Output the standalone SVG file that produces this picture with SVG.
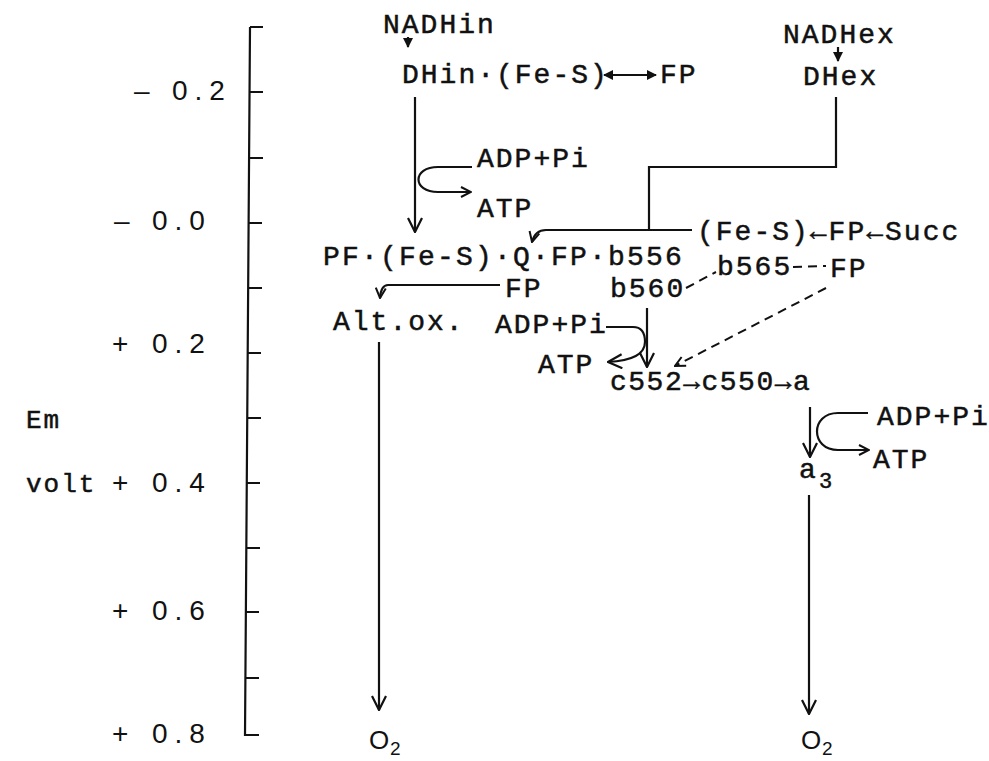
<svg xmlns="http://www.w3.org/2000/svg" width="989" height="761" viewBox="0 0 989 761">
<style>
.t{font-family:"Liberation Mono","DejaVu Sans Mono",monospace;font-size:28px;letter-spacing:2px;fill:#111;stroke:#111;stroke-width:0.5px}
.s{font-family:"Liberation Sans",Arial,sans-serif;font-size:28px;fill:#111}
.n{letter-spacing:7px}
.ln{fill:none;stroke:#111;stroke-width:2.2}
.d{fill:none;stroke:#111;stroke-width:2;stroke-dasharray:9 6}
</style>
<defs>
<marker id="v" viewBox="0 0 16 16" refX="15" refY="8" markerWidth="16" markerHeight="16" markerUnits="userSpaceOnUse" orient="auto"><path d="M1,1 L15,8 L1,15" fill="none" stroke="#111" stroke-width="2.2"/></marker>
<marker id="vs" viewBox="0 0 12 12" refX="11" refY="6" markerWidth="12" markerHeight="12" markerUnits="userSpaceOnUse" orient="auto"><path d="M1,1 L11,6 L1,11" fill="none" stroke="#111" stroke-width="2"/></marker>
<marker id="f" viewBox="0 0 10 10" refX="9" refY="5" markerWidth="10" markerHeight="10" markerUnits="userSpaceOnUse" orient="auto"><path d="M0,0 L10,5 L0,10 Z" fill="#111"/></marker>
<marker id="fs" viewBox="0 0 10 10" refX="1" refY="5" markerWidth="10" markerHeight="10" markerUnits="userSpaceOnUse" orient="auto"><path d="M10,0 L0,5 L10,10 Z" fill="#111"/></marker>
</defs>
<rect width="989" height="761" fill="#fff"/>

<g id="axis">
<path class="ln" d="M250,27 L245,735 H259" stroke-width="2.6"/>
<path class="ln" d="M250,27 H263 M250,92 H263 M250,158 H263 M249,223 H262 M249,288 H262 M248,353 H261 M248,418 H261 M247,483 H260 M247,548 H260 M246,612 H259 M246,678 H259"/>
<text class="s" x="134" y="100">–</text><text class="s n" x="172" y="100">0.2</text>
<text class="s" x="114" y="230">–</text><text class="s n" x="152" y="230">0.0</text>
<text class="s" x="112" y="353">+</text><text class="s n" x="152" y="353">0.2</text>
<text class="s" x="112" y="492">+</text><text class="s n" x="152" y="492">0.4</text>
<text class="s" x="112" y="620">+</text><text class="s n" x="152" y="620">0.6</text>
<text class="s" x="112" y="743">+</text><text class="s n" x="152" y="743">0.8</text>
<text class="t" x="26" y="428" style="font-size:26px">Em</text>
<text class="t" x="26" y="492" style="font-size:26px">volt</text>
</g>

<g id="nadhin"><text class="t" x="383" y="33">NADHin</text></g>
<g id="nadhex"><text class="t" x="783" y="43">NADHex</text></g>
<g id="dhin"><text class="t" x="402" y="83">DHin·(Fe-S)</text></g>
<g id="fp1"><text class="t" x="660" y="83">FP</text></g>
<g id="dhex"><text class="t" x="803" y="85">DHex</text></g>
<g id="adp1"><text class="t" x="477" y="167">ADP+Pi</text></g>
<g id="atp1"><text class="t" x="477" y="217">ATP</text></g>
<g id="fes-succ"><text class="t" x="697" y="240">(Fe-S)←FP←Succ</text></g>
<g id="pf-chain"><text class="t" x="323" y="265" style="letter-spacing:2.2px">PF·(Fe-S)·Q·FP·b556</text></g>
<g id="fp2"><text class="t" x="505" y="297">FP</text></g>
<g id="b560"><text class="t" x="610" y="297">b560</text></g>
<g id="b565"><text class="t" x="717" y="275">b565</text></g>
<g id="fp3"><text class="t" x="830" y="277">FP</text></g>
<g id="altox"><text class="t" x="333" y="330">Alt.ox.</text></g>
<g id="adp2"><text class="t" x="495" y="333">ADP+Pi</text></g>
<g id="atp2"><text class="t" x="538" y="373">ATP</text></g>
<g id="cyt"><text class="t" x="610" y="390" style="letter-spacing:1.5px">c552→c550→a</text></g>
<g id="adp3"><text class="t" x="877" y="425">ADP+Pi</text></g>
<g id="atp3"><text class="t" x="873" y="468">ATP</text></g>
<g id="a3"><text class="t" x="799" y="478">a</text><text class="t" x="819" y="488" style="font-size:22px">3</text></g>
<g id="o2-left"><text class="s" x="369" y="749" style="font-size:26px">O</text><text class="s" x="390" y="755" style="font-size:19px">2</text></g>
<g id="o2-right"><text class="s" x="801" y="749" style="font-size:26px">O</text><text class="s" x="822" y="755" style="font-size:19px">2</text></g>

<g id="connectors">
<path class="ln" d="M408,37 V47" marker-end="url(#f)"/>
<path class="ln" d="M838,47 V61" marker-end="url(#f)"/>
<path class="ln" d="M604,75 H656" marker-start="url(#fs)" marker-end="url(#f)"/>
<path class="ln" d="M415,97 V232" marker-end="url(#v)"/>
<path class="ln" d="M472,167 H438 C412,167 412,192 438,192 H471" marker-end="url(#vs)"/>
<path class="ln" d="M836,97 V167 H649 V230"/>
<path class="ln" d="M692,230 H546 Q535,230 532,242" marker-end="url(#vs)"/>
<path class="ln" d="M500,285 H388 Q381,285 380,298" marker-end="url(#vs)"/>
<path class="ln" d="M647,308 V367" marker-end="url(#v)"/>
<path class="ln" d="M606,327 H633 Q645,327 645,342 Q645,360 608,362" marker-end="url(#v)"/>
<path class="d" d="M686,288 L716,272"/>
<path class="d" d="M793,267 L826,266"/>
<path class="d" d="M826,288 L675,366" marker-end="url(#vs)"/>
<path class="ln" d="M810,407 V457" marker-end="url(#v)"/>
<path class="ln" d="M868,413 H838 C810,413 810,450 838,450 H869" marker-end="url(#vs)"/>
<path class="ln" d="M379,342 V710" marker-end="url(#v)"/>
<path class="ln" d="M809,495 V714" marker-end="url(#v)"/>
</g>
</svg>
